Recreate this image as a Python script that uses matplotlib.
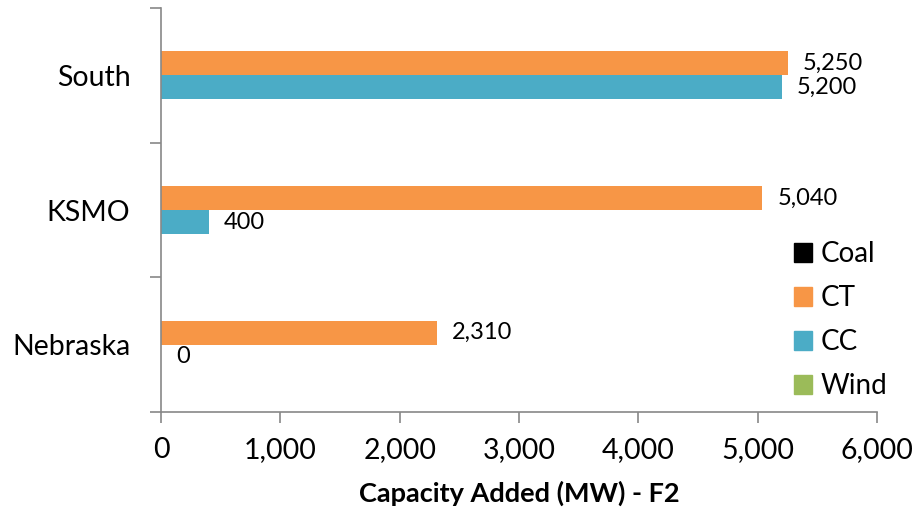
import numpy as np
import matplotlib
matplotlib.use("Agg")
import matplotlib.pyplot as plt
from matplotlib.patches import Patch

plt.rcParams['font.family'] = ['Lato', 'DejaVu Sans']

regions = ['Nebraska', 'KSMO', 'South']
series = ['Coal', 'CT', 'CC', 'Wind']
coal = [0, 0, 0]
ct = [2310, 5040, 5250]
cc = [0, 400, 5200]
wind = [0, 0, 0]
colors = ['#000000', '#F79646', '#4BACC6', '#9BBB59']
labelled = ['CT', 'CC']

fig = plt.figure(figsize=(9.17, 5.14), dpi=100)
ax = fig.add_axes([0.1756, 0.1984, 0.7808, 0.786])

y = np.arange(len(regions))
h = 0.178
offsets = [1.5 * h, 0.5 * h, -0.5 * h, -1.5 * h]
for name, vals, col, off in zip(series, [coal, ct, cc, wind], colors, offsets):
    bars = ax.barh(y + off, vals, height=h, color=col, label=name)
    if name in labelled:
        ax.bar_label(bars, labels=[f'{v:,}' for v in vals], padding=11, fontsize=17)

ax.set_xlim(0, 6000)
ax.set_ylim(-0.5, 2.5)
ax.set_xticks(np.arange(0, 6001, 1000))
ax.xaxis.set_major_formatter(matplotlib.ticker.FuncFormatter(lambda v, p: f'{int(v):,}'))
ax.set_yticks(y)
ax.set_yticklabels(regions)
ax.set_yticks(np.arange(-0.5, 2.6, 1), minor=True)
ax.tick_params(axis='y', which='major', length=0, pad=22, labelsize=20.5)
ax.tick_params(axis='y', which='minor', length=8, color='#888888', width=1.2)
ax.tick_params(axis='x', length=8, color='#888888', width=1.2, pad=10, labelsize=20.5)

for s in ['top', 'right']:
    ax.spines[s].set_visible(False)
for s in ['left', 'bottom']:
    ax.spines[s].set_color('#888888')
    ax.spines[s].set_linewidth(1.2)

ax.set_xlabel('Capacity Added (MW) - F2', fontsize=19.5, fontweight='bold', labelpad=13)

handles = [Patch(color=c, label=s) for s, c in zip(series, colors)]
ax.legend(handles=handles, loc='upper left', bbox_to_anchor=(0.884, 0.423), frameon=False,
          fontsize=20, handlelength=0.65, handleheight=0.65, handletextpad=0.3,
          labelspacing=0.65, borderpad=0, borderaxespad=0)

fig.savefig('out.png', dpi=100)
